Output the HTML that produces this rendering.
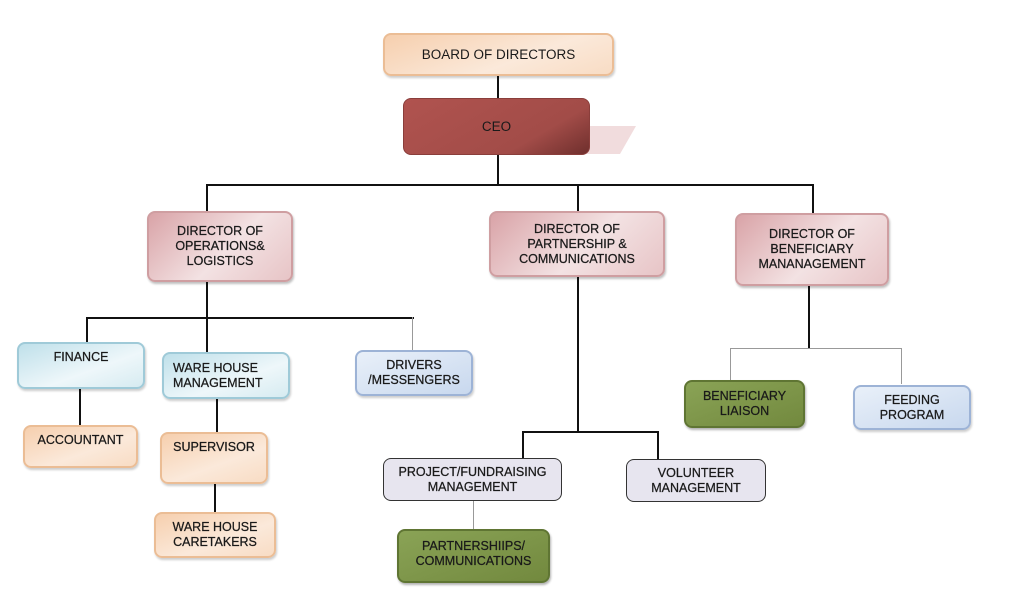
<!DOCTYPE html>
<html><head><meta charset="utf-8"><style>
body{margin:0;background:#fff;width:1024px;height:610px;position:relative;overflow:hidden;font-family:"Liberation Sans",sans-serif}
.b{position:absolute;box-sizing:border-box;display:flex;align-items:center;justify-content:center;text-align:center;font-size:12.5px;line-height:15px;color:#1a1a1a;border-radius:8px;-webkit-text-stroke:0.25px #1a1a1a}
.l{position:absolute;background:#111}
.g{background:#999}
.pk{background:linear-gradient(135deg,#d9a3a7,#f3e2e3 55%,#e7c4c6);border:2px solid #cf9ea1;box-shadow:1px 2px 2px rgba(0,0,0,.25)}
.bl{background:linear-gradient(160deg,#bfe0ea,#eef7fa 60%,#d6ebf1);border:2px solid #9fcad8;box-shadow:1px 2px 2px rgba(0,0,0,.2)}
.db{background:linear-gradient(160deg,#e9f0f9,#c8d8ee);border:2px solid #9db3d6;box-shadow:1px 2px 2px rgba(0,0,0,.2)}
.pe{background:linear-gradient(160deg,#f6cfae,#fbe9da 60%,#f8dcc4);border:2px solid #ebbd95;box-shadow:1px 2px 2px rgba(0,0,0,.2)}
.gr{background:linear-gradient(160deg,#8aa356,#72893e);border:2px solid #5f7533;box-shadow:1px 2px 2px rgba(0,0,0,.3)}
.gy{background:#e7e5ef;border:1.5px solid #333}
</style></head><body>
<div class="l" style="left:497px;top:76px;width:2px;height:22px"></div>
<div class="l" style="left:497px;top:155px;width:2px;height:30px"></div>
<div class="l" style="left:206px;top:184px;width:608px;height:2px"></div>
<div class="l" style="left:206px;top:184px;width:2px;height:27px"></div>
<div class="l" style="left:577px;top:184px;width:2px;height:27px"></div>
<div class="l" style="left:812px;top:184px;width:2px;height:29px"></div>
<div class="l" style="left:206px;top:282px;width:2px;height:36px"></div>
<div class="l" style="left:86px;top:317px;width:328px;height:2px"></div>
<div class="l" style="left:86px;top:317px;width:2px;height:25px"></div>
<div class="l" style="left:206px;top:317px;width:2px;height:35px"></div>
<div class="l g" style="left:412px;top:317px;width:1px;height:33px"></div>
<div class="l" style="left:79px;top:389px;width:2px;height:36px"></div>
<div class="l" style="left:216px;top:399px;width:2px;height:33px"></div>
<div class="l" style="left:214px;top:484px;width:2px;height:28px"></div>
<div class="l" style="left:577px;top:277px;width:2px;height:155px"></div>
<div class="l" style="left:522px;top:431px;width:137px;height:2px"></div>
<div class="l" style="left:522px;top:431px;width:2px;height:27px"></div>
<div class="l" style="left:657px;top:431px;width:2px;height:29px"></div>
<div class="l g" style="left:473px;top:501px;width:1px;height:28px"></div>
<div class="l" style="left:808px;top:286px;width:2px;height:63px"></div>
<div class="l g" style="left:730px;top:348px;width:172px;height:1px"></div>
<div class="l g" style="left:730px;top:348px;width:1px;height:32px"></div>
<div class="l g" style="left:901px;top:348px;width:1px;height:36px"></div>
<svg style="position:absolute;left:580px;top:124px" width="60" height="32"><polygon points="0,2 56,2 40,30 0,30" fill="#f1dcdd"/></svg>
<div class="b pe" style="left:383px;top:33px;width:231px;height:43px;font-size:13.5px;-webkit-text-stroke:0">BOARD OF DIRECTORS</div>
<div class="b" style="left:403px;top:98px;width:187px;height:57px;background:linear-gradient(150deg,#b0534f,#a24c48 70%,#6f2f2d);border:1px solid #8a3e3b;font-size:13.5px;-webkit-text-stroke:0">CEO</div>
<div class="b pk" style="left:147px;top:211px;width:146px;height:71px">DIRECTOR OF<br>OPERATIONS&amp;<br>LOGISTICS</div>
<div class="b pk" style="left:489px;top:211px;width:176px;height:66px">DIRECTOR OF<br>PARTNERSHIP &amp;<br>COMMUNICATIONS</div>
<div class="b pk" style="left:735px;top:213px;width:154px;height:73px">DIRECTOR OF<br>BENEFICIARY<br>MANANAGEMENT</div>
<div class="b bl" style="left:17px;top:342px;width:128px;height:47px;align-items:flex-start;padding-top:6px">FINANCE</div>
<div class="b bl" style="left:162px;top:352px;width:128px;height:47px;justify-content:flex-start;padding-left:9px;text-align:left">WARE HOUSE<br>MANAGEMENT</div>
<div class="b db" style="left:355px;top:350px;width:118px;height:46px">DRIVERS<br>/MESSENGERS</div>
<div class="b pe" style="left:23px;top:425px;width:115px;height:43px;align-items:flex-start;padding-top:6px">ACCOUNTANT</div>
<div class="b pe" style="left:160px;top:432px;width:108px;height:52px;align-items:flex-start;padding-top:6px">SUPERVISOR</div>
<div class="b pe" style="left:154px;top:512px;width:122px;height:46px">WARE HOUSE<br>CARETAKERS</div>
<div class="b gy" style="left:383px;top:458px;width:179px;height:43px">PROJECT/FUNDRAISING<br>MANAGEMENT</div>
<div class="b gy" style="left:626px;top:459px;width:140px;height:43px">VOLUNTEER<br>MANAGEMENT</div>
<div class="b gr" style="left:397px;top:529px;width:153px;height:54px;align-items:flex-start;padding-top:8px">PARTNERSHIIPS/<br>COMMUNICATIONS</div>
<div class="b gr" style="left:684px;top:380px;width:121px;height:48px">BENEFICIARY<br>LIAISON</div>
<div class="b db" style="left:853px;top:385px;width:118px;height:45px">FEEDING<br>PROGRAM</div>
</body></html>
